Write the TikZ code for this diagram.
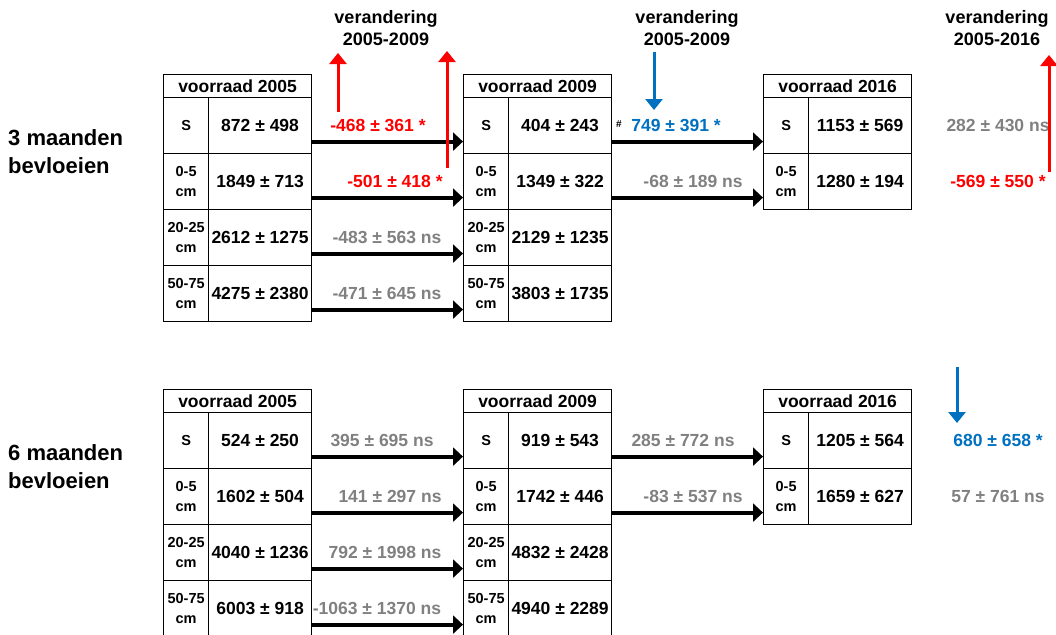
\documentclass[tikz,border=0pt]{standalone}
\usepackage{fontspec}
\setmainfont{Liberation Sans}
\usetikzlibrary{arrows.meta}
\definecolor{rood}{RGB}{255,0,0}
\definecolor{blauw}{RGB}{0,112,192}
\definecolor{grijs}{RGB}{128,128,128}
\tikzset{
  cel/.style={draw, line width=1.2pt, anchor=north west, inner sep=0pt, align=center,
              font=\bfseries\fontsize{17.5}{20}\selectfont},
  kop/.style={cel, minimum width=148pt, minimum height=23pt},
  diepte/.style={cel, minimum width=45pt, minimum height=56pt,
                 font=\bfseries\fontsize{14.5}{20}\selectfont},
  waarde/.style={cel, minimum width=103pt, minimum height=56pt},
  verschil/.style={inner sep=0pt, font=\bfseries\fontsize{17.5}{20}\selectfont},
  afname/.style={verschil, text=rood},
  toename/.style={verschil, text=blauw},
  nietsig/.style={verschil, text=grijs},
  periode/.style={inner sep=0pt, align=center, font=\bfseries\fontsize{18}{21.5}\selectfont},
  groep/.style={inner sep=0pt, align=left, anchor=west, font=\bfseries\fontsize{22}{28}\selectfont},
  pijl/.style={line width=4pt, -{Triangle[length=10pt,width=18pt]}},
  rodepijl/.style={line width=3pt, rood, -{Triangle[length=11pt,width=17pt]}},
  blauwepijl/.style={line width=3pt, blauw, -{Triangle[length=11pt,width=17pt]}}
}
\begin{document}
\begin{tikzpicture}[x=1pt, y=-1pt]
  \useasboundingbox (0,0) rectangle (1056,634);
  % Periodes
  \node[periode] (p0509a) at (386,28) {verandering\\2005-2009};
  \node[periode] (p0509b) at (687,28) {verandering\\2005-2009};
  \node[periode] (p0516) at (997,28) {verandering\\2005-2016};

  % --- 3 maanden bevloeien ---
  \node[groep] (g3) at (8,152) {3 maanden\\bevloeien};
  \node[kop] (a05) at (163,74) {voorraad 2005};
  \foreach \r/\d/\w in {1/S/872 ± 498, 2/0-5\\cm/1849 ± 713,
                        3/20-25\\cm/2612 ± 1275, 4/50-75\\cm/4275 ± 2380}{
    \node[diepte] (a05d\r) at (163,41+56*\r) {\d};
    \node[waarde] (a05w\r) at (208,41+56*\r) {\w};
  }
  \node[kop] (a09) at (463,74) {voorraad 2009};
  \foreach \r/\d/\w in {1/S/404 ± 243, 2/0-5\\cm/1349 ± 322,
                        3/20-25\\cm/2129 ± 1235, 4/50-75\\cm/3803 ± 1735}{
    \node[diepte] (a09d\r) at (463,41+56*\r) {\d};
    \node[waarde] (a09w\r) at (508,41+56*\r) {\w};
  }
  \node[kop] (a16) at (763,74) {voorraad 2016};
  \foreach \r/\d/\w in {1/S/1153 ± 569, 2/0-5\\cm/1280 ± 194}{
    \node[diepte] (a16d\r) at (763,41+56*\r) {\d};
    \node[waarde] (a16w\r) at (808,41+56*\r) {\w};
  }
  % Pijlen tussen de jaren
  \foreach \r in {1,...,4}
    \draw[pijl] ([yshift=-16pt]a05w\r.east) -- ([yshift=-16pt]a09d\r.west);
  \foreach \r in {1,2}
    \draw[pijl] ([yshift=-16pt]a09w\r.east) -- ([yshift=-16pt]a16d\r.west);
  % Veranderingen
  \node[afname] (va1) at (378,125) {-468 ± 361 *};
  \node[afname] (va2) at (395,181) {-501 ± 418 *};
  \node[nietsig] (va3) at (387,237) {-483 ± 563 ns};
  \node[nietsig] (va4) at (387,293) {-471 ± 645 ns};
  \node[inner sep=0pt, font=\bfseries\fontsize{10}{12}\selectfont] (hekje) at (619,124) {\#};
  \node[toename] (vb1) at (676,125) {749 ± 391 *};
  \node[nietsig] (vb2) at (693,181) {-68 ± 189 ns};
  \node[nietsig] (vc1) at (998,125) {282 ± 430 ns};
  \node[afname] (vc2) at (998,181) {-569 ± 550 *};
  % Richting van de verandering
  \coordinate (r1s) at (338,112); \coordinate (r1e) at (338,53);
  \coordinate (r2s) at (447,168); \coordinate (r2e) at (447,51);
  \coordinate (b1s) at (654,52);  \coordinate (b1e) at (654,110);
  \coordinate (r3s) at (1049,172); \coordinate (r3e) at (1049,55);
  \draw[rodepijl] (r1s) -- (r1e);
  \draw[rodepijl] (r2s) -- (r2e);
  \draw[blauwepijl] (b1s) -- (b1e);
  \draw[rodepijl] (r3s) -- (r3e);

  % --- 6 maanden bevloeien ---
  \node[groep] (g6) at (8,467) {6 maanden\\bevloeien};
  \node[kop] (b05) at (163,389) {voorraad 2005};
  \foreach \r/\d/\w in {1/S/524 ± 250, 2/0-5\\cm/1602 ± 504,
                        3/20-25\\cm/4040 ± 1236, 4/50-75\\cm/6003 ± 918}{
    \node[diepte] (b05d\r) at (163,356+56*\r) {\d};
    \node[waarde] (b05w\r) at (208,356+56*\r) {\w};
  }
  \node[kop] (b09) at (463,389) {voorraad 2009};
  \foreach \r/\d/\w in {1/S/919 ± 543, 2/0-5\\cm/1742 ± 446,
                        3/20-25\\cm/4832 ± 2428, 4/50-75\\cm/4940 ± 2289}{
    \node[diepte] (b09d\r) at (463,356+56*\r) {\d};
    \node[waarde] (b09w\r) at (508,356+56*\r) {\w};
  }
  \node[kop] (b16) at (763,389) {voorraad 2016};
  \foreach \r/\d/\w in {1/S/1205 ± 564, 2/0-5\\cm/1659 ± 627}{
    \node[diepte] (b16d\r) at (763,356+56*\r) {\d};
    \node[waarde] (b16w\r) at (808,356+56*\r) {\w};
  }
  % Pijlen tussen de jaren
  \foreach \r in {1,...,4}
    \draw[pijl] ([yshift=-16pt]b05w\r.east) -- ([yshift=-16pt]b09d\r.west);
  \foreach \r in {1,2}
    \draw[pijl] ([yshift=-16pt]b09w\r.east) -- ([yshift=-16pt]b16d\r.west);
  % Veranderingen
  \node[nietsig] (wa1) at (382,440) {395 ± 695 ns};
  \node[nietsig] (wa2) at (390,496) {141 ± 297 ns};
  \node[nietsig] (wa3) at (385,552) {792 ± 1998 ns};
  \node[nietsig] (wa4) at (377,608) {-1063 ± 1370 ns};
  \node[nietsig] (wb1) at (683,440) {285 ± 772 ns};
  \node[nietsig] (wb2) at (693,496) {-83 ± 537 ns};
  \node[toename] (wc1) at (998,440) {680 ± 658 *};
  \node[nietsig] (wc2) at (998,496) {57 ± 761 ns};
  \coordinate (b2s) at (957,367); \coordinate (b2e) at (957,423);
  \draw[blauwepijl] (b2s) -- (b2e);
\end{tikzpicture}
\end{document}
